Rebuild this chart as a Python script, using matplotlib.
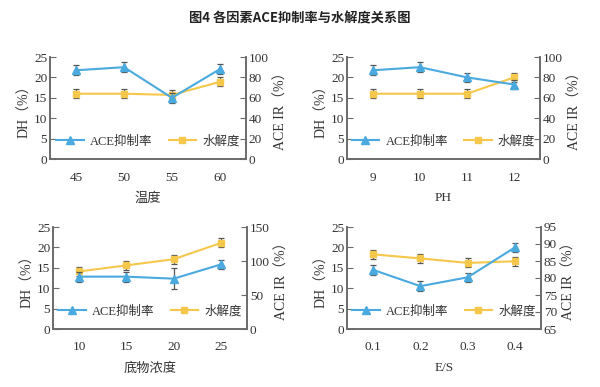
import matplotlib.pyplot as plt
from matplotlib.lines import Line2D

plt.rcParams['font.family'] = ['Liberation Serif', 'Noto Sans CJK SC']
plt.rcParams['font.size'] = 9

# 各图数据: x 标签, ACE 抑制率 (右轴), 水解度 DH (左轴)
temp_x = ['45', '50', '55', '60']
temp_ace = [87, 90, 60, 88]
temp_dh = [16, 16, 15.7, 18.9]

ph_x = ['9', '10', '11', '12']
ph_ace = [87, 90, 80, 73]
ph_dh = [16, 16, 16, 20]

conc_x = ['10', '15', '20', '25']
conc_ace = [77, 77, 74, 95]
conc_dh = [14.1, 15.6, 17.1, 21.1]

es_x = ['0.1', '0.2', '0.3', '0.4']
es_ace = [82.4, 77.6, 80.2, 89]
es_dh = [18.3, 17.3, 16.2, 16.6]

panels = [
    (temp_x, temp_ace, temp_dh, '温度', (0, 100), [0, 20, 40, 60, 80, 100], 4.8),
    (ph_x, ph_ace, ph_dh, 'PH', (0, 100), [0, 20, 40, 60, 80, 100], 4.8),
    (conc_x, conc_ace, conc_dh, '底物浓度', (0, 150), [0, 50, 100, 150], 7.2),
    (es_x, es_ace, es_dh, 'E/S', (65, 95), [65, 70, 75, 80, 85, 90, 95], 1.4),
]
ace_err_extra = {2: [0, 0, 8, 0]}

blue = '#4aa9de'
yellow = '#f5c84c'
gray = '#6b6b6b'

fig = plt.figure(figsize=(6, 3.87), dpi=100)
fig.text(0.5, 0.953, '图4 各因素ACE抑制率与水解度关系图', ha='center', va='center',
         fontsize=9.5, fontweight='bold', family=['Noto Sans CJK SC', 'DejaVu Sans'],
         color='#222222')

W, H = 600, 387
boxes = [(50, 57, 246, 159), (347, 57, 540, 159),
         (53, 227, 247, 329), (347, 227, 541, 329)]

for i, (xl, ace, dh, xlabel, rlim, rticks, aerr) in enumerate(panels):
    x0, y0, x1, y1 = boxes[i]
    ax = fig.add_axes([x0 / W, 1 - y1 / H, (x1 - x0) / W, (y1 - y0) / H])
    ax2 = ax.twinx()
    pos = list(range(len(xl)))
    err_dh = [1.1] * 4
    err_ace = [aerr] * 4
    if i in ace_err_extra:
        err_ace = [aerr + e for e in ace_err_extra[i]]
    ax.errorbar(pos, dh, yerr=err_dh, color=yellow, marker='s', ms=5, lw=1.5,
                ecolor='#555555', elinewidth=0.9, capsize=2.5, capthick=0.9,
                zorder=3)
    ax2.errorbar(pos, ace, yerr=err_ace, color=blue, marker='^', ms=5.5, lw=1.5,
                 ecolor='#555555', elinewidth=0.9, capsize=2.5, capthick=0.9,
                 zorder=3)
    ax.set_xlim(-0.55, 3.55)
    ax.set_ylim(0, 25)
    ax.set_yticks([0, 5, 10, 15, 20, 25])
    ax2.set_ylim(*rlim)
    ax2.set_yticks(rticks)
    ax.set_xticks(pos)
    ax.set_xticklabels(xl)
    for a in (ax, ax2):
        a.spines['top'].set_visible(False)
        for s in ('left', 'right', 'bottom'):
            a.spines[s].set_color(gray)
            a.spines[s].set_linewidth(1.2)
        a.tick_params(axis='y', direction='in', color=gray, length=4,
                      labelcolor='#333333', labelsize=9.5, pad=2)
    ax.tick_params(axis='x', length=0, pad=9, labelcolor='#333333', labelsize=9.5)
    ax.set_ylabel('DH（%）', fontsize=10, color='#333333', labelpad=2)
    ax2.set_ylabel('ACE IR（%）', fontsize=10, color='#333333', labelpad=4)
    ax.set_xlabel(xlabel, fontsize=9.5, color='#333333', labelpad=6)
    handles = [Line2D([], [], color=blue, marker='^', ms=5.5, lw=1.5),
               Line2D([], [], color=yellow, marker='s', ms=5, lw=1.5)]
    leg = ax2.legend(handles, ['ACE抑制率', '水解度'], loc='lower center', ncol=2,
                     frameon=False, fontsize=9, handlelength=2.2, handletextpad=0.5,
                     columnspacing=1.3, bbox_to_anchor=(0.5, 0.0))
    for t in leg.get_texts():
        t.set_color('#333333')

fig.savefig('out.png', dpi=100)
